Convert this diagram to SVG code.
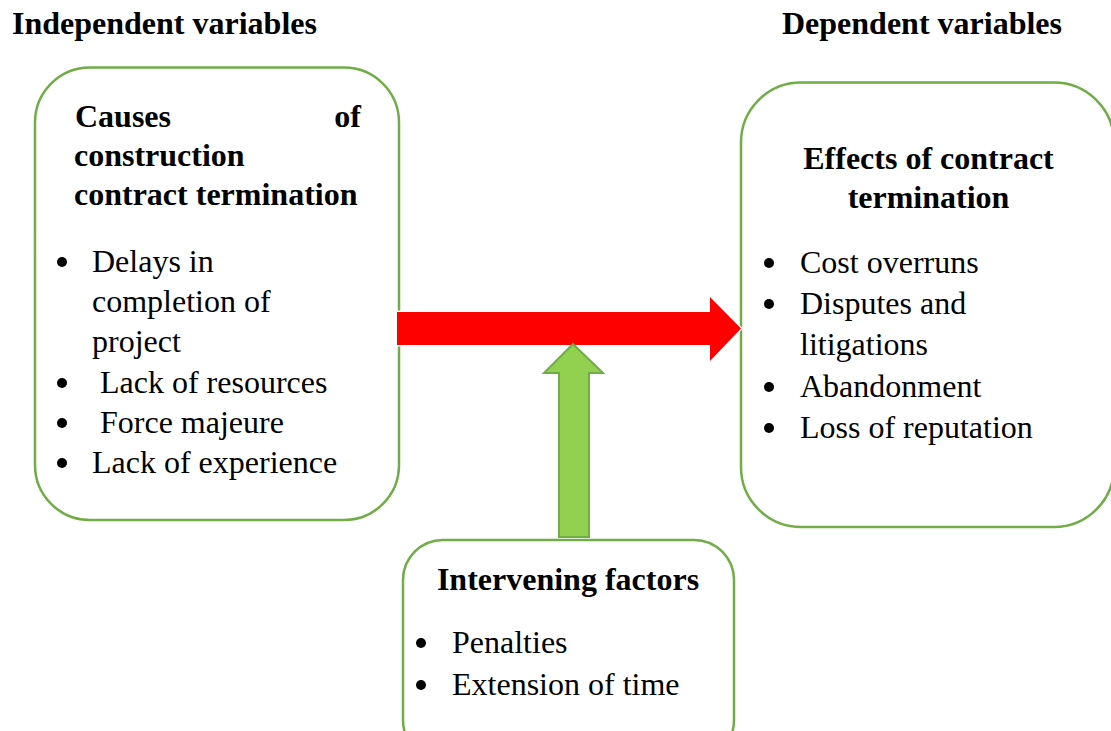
<svg xmlns="http://www.w3.org/2000/svg" width="1111" height="731" viewBox="0 0 1111 731">
  <style>
    .box { fill: #fff; stroke: #70AD47; stroke-width: 2.5; }
    .hd { font-family: "Liberation Serif", "Times New Roman", serif; font-weight: bold; font-size: 32px; fill: #000; }
    .tx { font-family: "Liberation Serif", "Times New Roman", serif; font-size: 32px; fill: #000; }
    .dot { fill: #000; }
  </style>
  <rect width="1111" height="731" fill="#fff"/>

  <!-- column headings -->
  <text class="hd" x="12" y="33.5">Independent variables</text>
  <text class="hd" x="782" y="33.5">Dependent variables</text>

  <!-- independent variables -->
  <g id="causes">
    <rect class="box" x="35" y="67.5" width="364" height="452.5" rx="55" ry="55"/>
    <text class="hd" x="75" y="127">Causes</text>
    <text class="hd" x="361" y="127" text-anchor="end">of</text>
    <text class="hd" x="74" y="166">construction</text>
    <text class="hd" x="74" y="205">contract termination</text>
    <circle class="dot" cx="62" cy="262" r="5"/>
    <text class="tx" x="92" y="272">Delays in</text>
    <text class="tx" x="92" y="312">completion of</text>
    <text class="tx" x="92" y="352">project</text>
    <circle class="dot" cx="62" cy="383" r="5"/>
    <text class="tx" x="100" y="393">Lack of resources</text>
    <circle class="dot" cx="62" cy="423" r="5"/>
    <text class="tx" x="100" y="433">Force majeure</text>
    <circle class="dot" cx="62" cy="463" r="5"/>
    <text class="tx" x="92" y="473">Lack of experience</text>
  </g>

  <!-- dependent variables -->
  <g id="effects">
    <rect class="box" x="741" y="82.5" width="373" height="444.5" rx="60" ry="60"/>
    <text class="hd" x="928.5" y="169" text-anchor="middle">Effects of contract</text>
    <text class="hd" x="928.5" y="208" text-anchor="middle">termination</text>
    <circle class="dot" cx="769" cy="263" r="5"/>
    <text class="tx" x="800" y="273">Cost overruns</text>
    <circle class="dot" cx="769" cy="304" r="5"/>
    <text class="tx" x="800" y="314">Disputes and</text>
    <text class="tx" x="800" y="355">litigations</text>
    <circle class="dot" cx="769" cy="387" r="5"/>
    <text class="tx" x="800" y="397">Abandonment</text>
    <circle class="dot" cx="769" cy="428" r="5"/>
    <text class="tx" x="800" y="438">Loss of reputation</text>
  </g>

  <!-- intervening factors -->
  <g id="intervening">
    <rect class="box" x="403" y="540" width="331" height="220" rx="40" ry="40"/>
    <text class="hd" x="568" y="590" text-anchor="middle">Intervening factors</text>
    <circle class="dot" cx="421" cy="643" r="5"/>
    <text class="tx" x="452" y="653">Penalties</text>
    <circle class="dot" cx="421" cy="685" r="5"/>
    <text class="tx" x="452" y="695">Extension of time</text>
  </g>

  <!-- block arrows -->
  <g id="connectors">
    <path d="M397 312 H710 V297 L741 328.5 L710 361 V345 H397 Z" fill="#FF0000" stroke="#fff" stroke-width="3" paint-order="stroke"/>
    <path d="M573 344 L603 373 H589 V537 H559 V373 H544 Z" fill="#92D050" stroke="#70AD47" stroke-width="2"/>
  </g>
</svg>
